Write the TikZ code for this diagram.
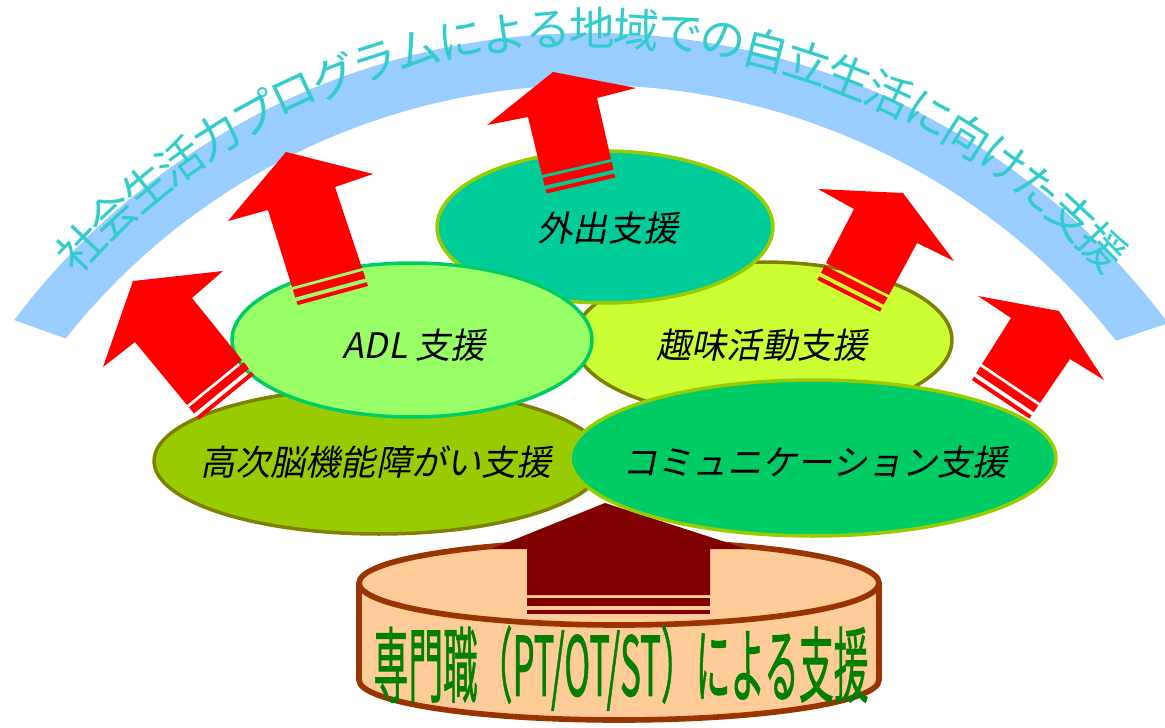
\documentclass[tikz,border=0pt]{standalone}
\usepackage{fontspec}
\usepackage{graphicx}
\usetikzlibrary{shapes.geometric,calc}
\newfontfamily\jp{Noto Sans CJK JP}
\newfontfamily\jpb{Noto Sans CJK JP}[FakeBold=1.2]
\newfontfamily\jpit{Noto Sans CJK JP}[FakeSlant=0.2]
\definecolor{bandblue}{HTML}{99CCFF}
\definecolor{arccyan}{HTML}{33CCCC}
\definecolor{arrowred}{HTML}{FF0000}
\definecolor{arrowbrown}{HTML}{800000}
\definecolor{cylfill}{HTML}{FFCC99}
\definecolor{cylline}{HTML}{993300}
\definecolor{txtgreen}{HTML}{008000}
\definecolor{teal1}{HTML}{00CC99}
\definecolor{ygreen}{HTML}{99CC00}
\definecolor{lgreen}{HTML}{99FF66}
\definecolor{mgreen}{HTML}{00CC66}
\definecolor{lime}{HTML}{CCFF33}
\definecolor{olive1}{HTML}{808000}
\newcommand\blockarrow[8]{%
  \fill[#1] #2 -- #3 -- #4 -- #5 -- #6 -- #7 -- #8 -- cycle;
  \fill[#1] ($#6!-0.06cm!#7$) -- ($#5!-0.06cm!#4$) -- ($#5!-0.22cm!#4$) -- ($#6!-0.22cm!#7$) -- cycle;
  \fill[#1] ($#6!-0.30cm!#7$) -- ($#5!-0.30cm!#4$) -- ($#5!-0.38cm!#4$) -- ($#6!-0.38cm!#7$) -- cycle;
}
\begin{document}
\begin{tikzpicture}[x=0.02cm,y=-0.02cm,
  redarrow/.style={fill=arrowred},
  brownarrow/.style={fill=arrowbrown},
  arctext/.style={text=arccyan,font=\jp\fontsize{26}{26}\selectfont,inner sep=0pt,anchor=center},
  bubble/.style={ellipse,draw,line width=2pt,inner sep=0pt},
  btext/.style={font=\jpit\fontsize{20}{24}\selectfont,text=black,inner sep=0pt},
  cyl/.style={draw=cylline,fill=cylfill,line width=3.2pt}]
\useasboundingbox (0,0) rectangle (1165,727);
% blue band
\coordinate (bc) at (590,754);
\fill[bandblue] ($(bc)+(-143:721)$) arc[start angle=-143,end angle=-36.7,radius=721]
  -- ($(bc)+(-38.15:669)$) arc[start angle=-38.15,end angle=-141.6,radius=669] -- cycle;
% arc text
\foreach \ch [count=\i from 0] in {社,会,生,活,力,プ,ロ,グ,ラ,ム,に,よ,る,地,域,で,の,自,立,生,活,に,向,け,た,支,援} {
  \pgfmathsetmacro\ang{136.44-3.572*\i}
  \node[arctext,rotate=\ang-90] (t\i) at ($(592,733)+(-\ang:705)$) {\ch};
}
% cylinder
\fill[cylfill] (359,583) -- (359,680) arc[start angle=180,end angle=0,x radius=260,y radius=40] -- (879,583) -- cycle;
\draw[cylline,line width=3.2pt] (359,583) -- (359,680) arc[start angle=180,end angle=0,x radius=260,y radius=40] -- (879,583);
\draw[cyl] (619,583) ellipse[x radius=260,y radius=42];
\node[font=\jpb,text=txtgreen,inner sep=0pt] (pro) at (621,668) {\resizebox*{9.9cm}{1.7cm}{専門職（PT/OT/ST）による支援}};
% brown arrow
\blockarrow{brownarrow}{(605,503)}{(747,549)}{(710,549)}{(710,595)}{(527,595)}{(527,549)}{(491,549)}
% ellipses
\node[bubble,fill=lime,draw=olive1,minimum width=7.56cm,minimum height=3.12cm] (hobby) at (763,340) {};
\node[btext] (hobbyt) at (762,345) {趣味活動支援};
\node[bubble,fill=teal1,draw=ygreen,minimum width=6.72cm,minimum height=3.04cm] (out) at (605,227) {};
\node[btext] (outt) at (608,228) {外出支援};
\node[bubble,fill=ygreen,draw=olive1,minimum width=9.0cm,minimum height=2.92cm] (brain) at (379,461) {};
\node[btext] (braint) at (376,462) {高次脳機能障がい支援};
\node[bubble,fill=lgreen,draw=mgreen,minimum width=7.2cm,minimum height=3.08cm] (adl) at (412,340) {};
\node[btext] (adlt) at (414,345) {ADL 支援};
\node[bubble,fill=mgreen,draw=ygreen,minimum width=9.72cm,minimum height=3.12cm] (comm) at (813,458) {};
\node[btext] (commt) at (815,462) {コミュニケーション支援};
% red arrows
\blockarrow{redarrow}{(133,281)}{(223,271)}{(192,298)}{(242,360)}{(187,405)}{(135,342)}{(103,367)}
\blockarrow{redarrow}{(286,152)}{(373,174)}{(335,187)}{(362,268)}{(292,287)}{(268,210)}{(228,221)}
\blockarrow{redarrow}{(553,72)}{(636,88)}{(597,98)}{(611,159)}{(542,175)}{(528,117)}{(487,125)}
\blockarrow{redarrow}{(903,193)}{(954,261)}{(917,243)}{(889,295)}{(826,263)}{(854,209)}{(818,189)}
\blockarrow{redarrow}{(1059,311)}{(1104,380)}{(1070,359)}{(1040,403)}{(982,364)}{(1011,318)}{(978,296)}
\end{tikzpicture}
\end{document}
